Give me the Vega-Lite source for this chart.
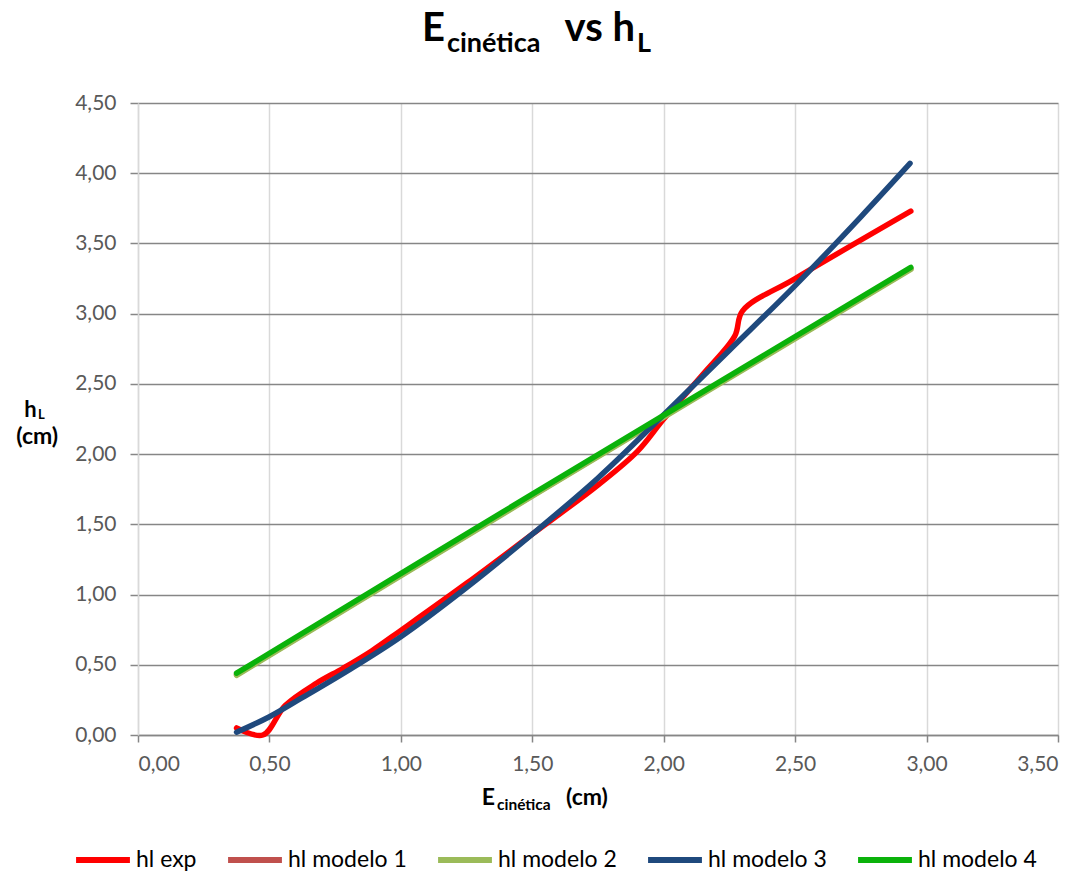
{
  "$schema": "https://vega.github.io/schema/vega-lite/v6.json",
  "width": 920,
  "height": 632,
  "autosize": {"type": "none"},
  "padding": {"left": 138, "top": 103, "right": 33, "bottom": 139},
  "background": "white",
  "datasets": {
    "series": [
      {"serie": "hl exp", "E": 0.375, "h": 0.05},
      {"serie": "hl exp", "E": 0.475, "h": 0.0},
      {"serie": "hl exp", "E": 0.56, "h": 0.21},
      {"serie": "hl exp", "E": 0.68, "h": 0.37},
      {"serie": "hl exp", "E": 0.78, "h": 0.475},
      {"serie": "hl exp", "E": 0.89, "h": 0.6},
      {"serie": "hl exp", "E": 1.0, "h": 0.745},
      {"serie": "hl exp", "E": 1.25, "h": 1.08},
      {"serie": "hl exp", "E": 1.5, "h": 1.43},
      {"serie": "hl exp", "E": 1.75, "h": 1.78},
      {"serie": "hl exp", "E": 1.9, "h": 2.02},
      {"serie": "hl exp", "E": 2.0, "h": 2.25},
      {"serie": "hl exp", "E": 2.15, "h": 2.57},
      {"serie": "hl exp", "E": 2.27, "h": 2.84},
      {"serie": "hl exp", "E": 2.3, "h": 3.02},
      {"serie": "hl exp", "E": 2.5, "h": 3.25},
      {"serie": "hl exp", "E": 2.94, "h": 3.73},
      {"serie": "hl modelo 1", "E": 0.375, "h": 0.43},
      {"serie": "hl modelo 1", "E": 1.5, "h": 1.705},
      {"serie": "hl modelo 1", "E": 2.94, "h": 3.32},
      {"serie": "hl modelo 2", "E": 0.375, "h": 0.425},
      {"serie": "hl modelo 2", "E": 1.5, "h": 1.70},
      {"serie": "hl modelo 2", "E": 2.94, "h": 3.315},
      {"serie": "hl modelo 3", "E": 0.375, "h": 0.02},
      {"serie": "hl modelo 3", "E": 0.5, "h": 0.13},
      {"serie": "hl modelo 3", "E": 0.62, "h": 0.26},
      {"serie": "hl modelo 3", "E": 0.8, "h": 0.46},
      {"serie": "hl modelo 3", "E": 1.0, "h": 0.7},
      {"serie": "hl modelo 3", "E": 1.25, "h": 1.05},
      {"serie": "hl modelo 3", "E": 1.5, "h": 1.43},
      {"serie": "hl modelo 3", "E": 1.75, "h": 1.83},
      {"serie": "hl modelo 3", "E": 2.0, "h": 2.28},
      {"serie": "hl modelo 3", "E": 2.25, "h": 2.74},
      {"serie": "hl modelo 3", "E": 2.5, "h": 3.2},
      {"serie": "hl modelo 3", "E": 2.75, "h": 3.69},
      {"serie": "hl modelo 3", "E": 2.937, "h": 4.07},
      {"serie": "hl modelo 4", "E": 0.375, "h": 0.44},
      {"serie": "hl modelo 4", "E": 1.5, "h": 1.715},
      {"serie": "hl modelo 4", "E": 2.94, "h": 3.33}
    ]
  },
  "layer": [
    {
      "data": {"name": "series"},
      "mark": {"type": "line", "interpolate": "catmull-rom", "strokeWidth": 5.5, "strokeCap": "round", "strokeJoin": "round"},
      "encoding": {
        "x": {
          "field": "E", "type": "quantitative",
          "scale": {"domain": [0, 3.5], "nice": false, "zero": false},
          "axis": {
            "title": null,
            "values": [0, 0.5, 1, 1.5, 2, 2.5, 3, 3.5],
            "labelExpr": "replace(format(datum.value, '.2f'), '.', ',')",
            "grid": true, "gridColor": "#d9d9d9", "gridWidth": 1.5,
            "domainColor": "#868686", "domainWidth": 1.5,
            "tickColor": "#868686", "tickWidth": 1.5, "tickSize": 7,
            "labelPadding": 11
          }
        },
        "y": {
          "field": "h", "type": "quantitative",
          "scale": {"domain": [0, 4.5], "nice": false, "zero": false},
          "axis": {
            "title": null,
            "values": [0, 0.5, 1, 1.5, 2, 2.5, 3, 3.5, 4, 4.5],
            "labelExpr": "replace(format(datum.value, '.2f'), '.', ',')",
            "grid": true, "gridColor": "#868686", "gridWidth": 1.5,
            "domainColor": "#d9d9d9", "domainWidth": 1.5,
            "tickColor": "#868686", "tickWidth": 1.5, "tickSize": 8,
            "labelPadding": 14
          }
        },
        "color": {
          "field": "serie", "type": "nominal",
          "scale": {
            "domain": ["hl exp", "hl modelo 1", "hl modelo 2", "hl modelo 3", "hl modelo 4"],
            "range": ["#FF0000", "#C0504D", "#9BBB59", "#1F497D", "#0AB20A"]
          },
          "legend": {"title": null, "orient": "none", "legendX": -65, "legendY": 727}
        }
      }
    },
    {
      "data": {"values": [{"t": "E"}]},
      "mark": {"type": "text", "align": "right", "baseline": "alphabetic", "font": "Lato", "fontWeight": "bold", "fontSize": 40, "color": "black"},
      "encoding": {"x": {"datum": 1.168, "type": "quantitative"}, "y": {"datum": 4.942, "type": "quantitative"}, "text": {"field": "t"}}
    },
    {
      "data": {"values": [{"t": "cinética"}]},
      "mark": {"type": "text", "align": "left", "baseline": "alphabetic", "font": "Lato", "fontWeight": "bold", "fontSize": 27, "color": "black"},
      "encoding": {"x": {"datum": 1.1755, "type": "quantitative"}, "y": {"datum": 4.863, "type": "quantitative"}, "text": {"field": "t"}}
    },
    {
      "data": {"values": [{"t": "vs h"}]},
      "mark": {"type": "text", "align": "right", "baseline": "alphabetic", "font": "Lato", "fontWeight": "bold", "fontSize": 40, "color": "black"},
      "encoding": {"x": {"datum": 1.8908, "type": "quantitative"}, "y": {"datum": 4.942, "type": "quantitative"}, "text": {"field": "t"}}
    },
    {
      "data": {"values": [{"t": "L"}]},
      "mark": {"type": "text", "align": "left", "baseline": "alphabetic", "font": "Lato", "fontWeight": "bold", "fontSize": 27, "color": "black"},
      "encoding": {"x": {"datum": 1.8984, "type": "quantitative"}, "y": {"datum": 4.863, "type": "quantitative"}, "text": {"field": "t"}}
    },
    {
      "data": {"values": [{"t": "E"}]},
      "mark": {"type": "text", "align": "right", "baseline": "alphabetic", "font": "Lato", "fontWeight": "bold", "fontSize": 23, "color": "black"},
      "encoding": {"x": {"datum": 1.3582, "type": "quantitative"}, "y": {"datum": -0.4984, "type": "quantitative"}, "text": {"field": "t"}}
    },
    {
      "data": {"values": [{"t": "cinética"}]},
      "mark": {"type": "text", "align": "left", "baseline": "alphabetic", "font": "Lato", "fontWeight": "bold", "fontSize": 15.5, "color": "black"},
      "encoding": {"x": {"datum": 1.3658, "type": "quantitative"}, "y": {"datum": -0.534, "type": "quantitative"}, "text": {"field": "t"}}
    },
    {
      "data": {"values": [{"t": "(cm)"}]},
      "mark": {"type": "text", "align": "left", "baseline": "alphabetic", "font": "Lato", "fontWeight": "bold", "fontSize": 23, "color": "black"},
      "encoding": {"x": {"datum": 1.6283, "type": "quantitative"}, "y": {"datum": -0.4984, "type": "quantitative"}, "text": {"field": "t"}}
    },
    {
      "data": {"values": [{"t": "h"}]},
      "mark": {"type": "text", "align": "right", "baseline": "alphabetic", "font": "Lato", "fontWeight": "bold", "fontSize": 22, "color": "black"},
      "encoding": {"x": {"datum": -0.3854, "type": "quantitative"}, "y": {"datum": 2.2664, "type": "quantitative"}, "text": {"field": "t"}}
    },
    {
      "data": {"values": [{"t": "L"}]},
      "mark": {"type": "text", "align": "left", "baseline": "alphabetic", "font": "Lato", "fontWeight": "bold", "fontSize": 13, "color": "black"},
      "encoding": {"x": {"datum": -0.3805, "type": "quantitative"}, "y": {"datum": 2.25, "type": "quantitative"}, "text": {"field": "t"}}
    },
    {
      "data": {"values": [{"t": "(cm)"}]},
      "mark": {"type": "text", "align": "center", "baseline": "alphabetic", "font": "Lato", "fontWeight": "bold", "fontSize": 23, "color": "black"},
      "encoding": {"x": {"datum": -0.3835, "type": "quantitative"}, "y": {"datum": 2.075, "type": "quantitative"}, "text": {"field": "t"}}
    }
  ],
  "config": {
    "view": {"stroke": null},
    "axis": {
      "labelFont": "Lato", "labelFontSize": 21, "labelColor": "#595959"
    },
    "legend": {
      "direction": "horizontal",
      "symbolType": "stroke", "symbolSize": 2900, "symbolStrokeWidth": 6,
      "labelFont": "Lato", "labelFontSize": 23, "labelColor": "black",
      "labelOffset": 3, "columnPadding": 19, "padding": 0, "labelLimit": 300
    }
  }
}
